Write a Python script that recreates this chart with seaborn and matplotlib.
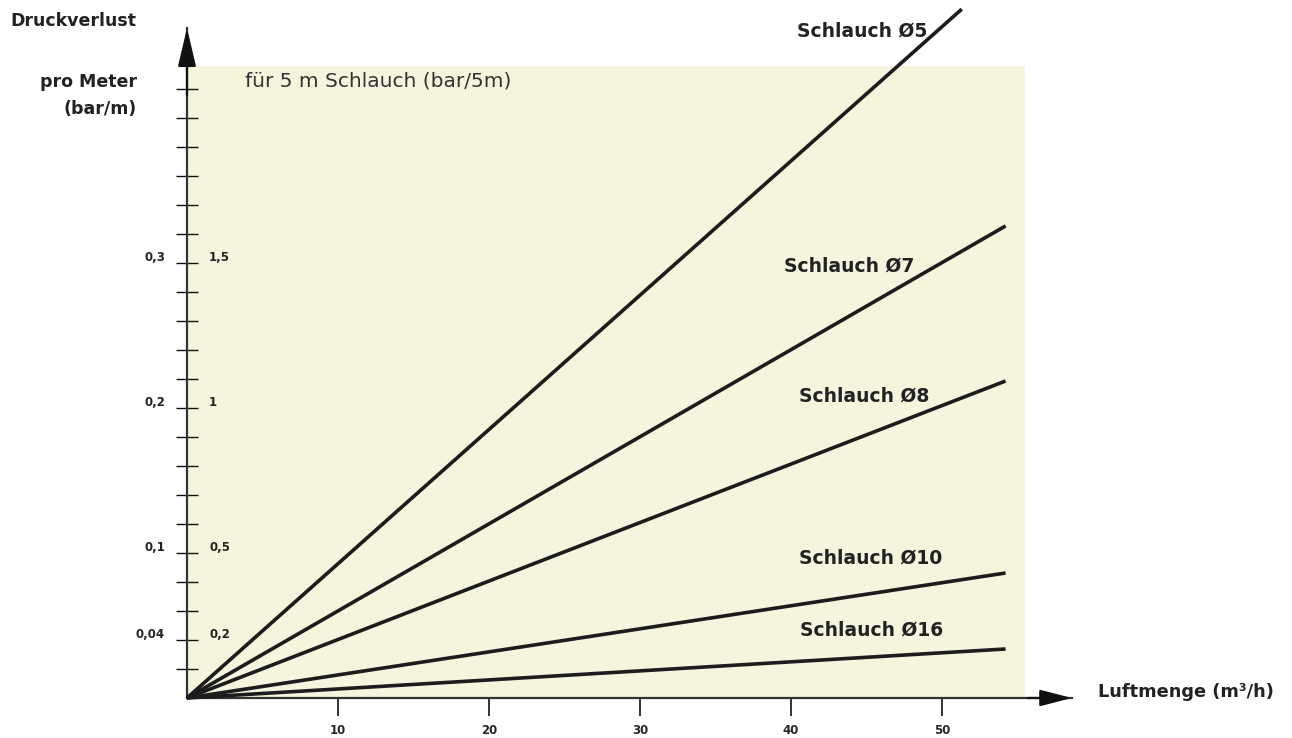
import pandas as pd
import seaborn as sns
import matplotlib.pyplot as plt

# Data (loss per metre in bar/m, flow in m3/h)
hoses = ["Schlauch Ø5", "Schlauch Ø7", "Schlauch Ø8", "Schlauch Ø10", "Schlauch Ø16"]
flow_end = [51.3, 54.2, 54.2, 54.2, 54.2]
loss_end = [0.475, 0.3255, 0.2186, 0.0862, 0.0338]

# label anchors for each hose
label_x = [49.0, 39.5, 40.5, 40.5, 40.6]
label_y = [0.460, 0.298, 0.208, 0.0966, 0.0469]
label_ha = ["right", "left", "left", "left", "left"]

x_ticks = [10, 20, 30, 40, 50]
y_ticks = [round(0.02 * i, 2) for i in range(1, 22)]
y_labels_m = {0.04: "0,04", 0.1: "0,1", 0.2: "0,2", 0.3: "0,3"}
y_labels_5m = {0.04: "0,2", 0.1: "0,5", 0.2: "1", 0.3: "1,5"}

shade_x = 55.5
shade_y = 0.436

rows = []
for h, xe, ye in zip(hoses, flow_end, loss_end):
    rows.append({"hose": h, "flow": 0.0, "loss": 0.0})
    rows.append({"hose": h, "flow": xe, "loss": ye})
df = pd.DataFrame(rows)

sns.set_style("white")
plt.rcParams["font.family"] = ["DejaVu Sans"]

W, H = 1292, 738
fig = plt.figure(figsize=(W / 100, H / 100), dpi=100)
ax = fig.add_axes([187 / W, 40 / H, 885 / W, 670 / H])
ax.set_facecolor("none")
ax.set_xlim(0, 58.6)
ax.set_ylim(0, 0.462)

ax.fill_between([0, shade_x], 0, shade_y, color="#f5f5de", lw=0, zorder=0)

sns.lineplot(data=df, x="flow", y="loss", hue="hose", estimator=None,
             palette={h: "#1c1c1c" for h in hoses}, linewidth=2.6,
             legend=False, ax=ax, zorder=3)
for line in ax.get_lines():
    line.set_clip_on(False)
    line.set_solid_capstyle("butt")

for s in ["top", "right"]:
    ax.spines[s].set_visible(False)
for s in ["left", "bottom"]:
    ax.spines[s].set_color("#333333")
    ax.spines[s].set_linewidth(1.6)

# axis arrows
ax.annotate("", xy=(1, 0), xytext=(0.95, 0), xycoords="axes fraction",
            arrowprops=dict(arrowstyle="-|>,head_length=0.7,head_width=0.18",
                            color="#111111", lw=1.6,
                            mutation_scale=28, shrinkA=0, shrinkB=0))
ax.annotate("", xy=(0, 1), xytext=(0, 0.9), xycoords="axes fraction",
            arrowprops=dict(arrowstyle="-|>,head_length=0.85,head_width=0.2",
                            color="#111111", lw=1.6,
                            mutation_scale=28, shrinkA=0, shrinkB=0))

ax.set_xticks(x_ticks)
ax.set_xticklabels([str(v) for v in x_ticks], fontsize=8.5, fontweight="bold")
ax.tick_params(axis="x", bottom=True, direction="out", length=13, width=1.2,
               color="#111111", pad=6)
ax.set_yticks(y_ticks)
ax.set_yticklabels([])
ax.tick_params(axis="y", left=True, direction="inout", length=16, width=1.0,
               color="#111111")
ax.set_xlabel("")
ax.set_ylabel("")

for v, t in y_labels_m.items():
    ax.annotate(t, xy=(0, v), xytext=(-22, 5), textcoords="offset pixels",
                ha="right", va="center", fontsize=8.5, fontweight="bold", color="#222222")
for v, t in y_labels_5m.items():
    ax.annotate(t, xy=(0, v), xytext=(22, 5), textcoords="offset pixels",
                ha="left", va="center", fontsize=8.5, fontweight="bold", color="#222222")

for h, lx, ly, ha in zip(hoses, label_x, label_y, label_ha):
    ax.text(lx, ly, h, ha=ha, va="center", fontsize=13.5, fontweight="bold",
            color="#222222", clip_on=False)

ax.text(3.85, 0.4255, "für 5 m Schlauch (bar/5m)", ha="left", va="center",
        fontsize=14.5, color="#333333")

fig.text(10 / W, 1 - 21 / H, "Druckverlust", ha="left", va="center",
         fontsize=12.5, fontweight="bold", color="#222222")
fig.text(137 / W, 1 - 82 / H, "pro Meter", ha="right", va="center",
         fontsize=12.5, fontweight="bold", color="#222222")
fig.text(137 / W, 1 - 109 / H, "(bar/m)", ha="right", va="center",
         fontsize=12.5, fontweight="bold", color="#222222")
fig.text(1098 / W, 1 - 692 / H, "Luftmenge (m³/h)", ha="left", va="center",
         fontsize=12.8, fontweight="bold", color="#222222")

fig.savefig("out.png", dpi=100, facecolor="white")
